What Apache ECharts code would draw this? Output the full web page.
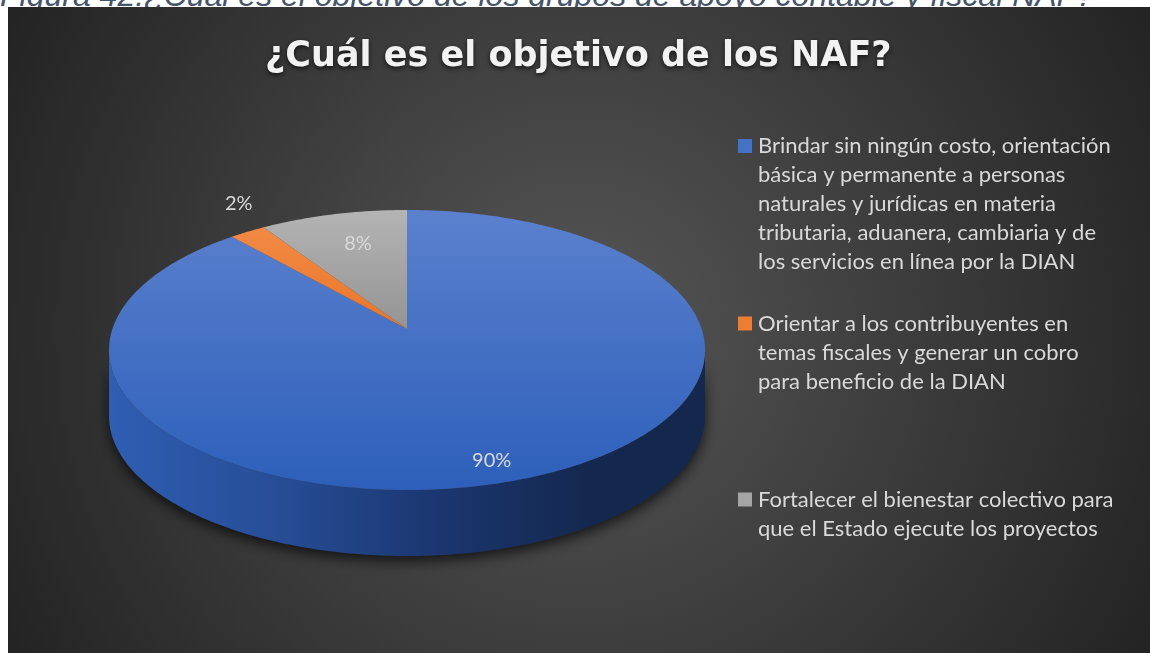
<!DOCTYPE html>
<html>
<head>
<meta charset="utf-8">
<script src="https://cdn.jsdelivr.net/npm/echarts@6/dist/echarts.min.js"></script>
<style>
  html, body { margin: 0; padding: 0; background: #fff; width: 1150px; height: 653px; overflow: hidden; position: relative; }
  #caption { position: absolute; left: 0; top: -21px; font: italic 32px/32px "Liberation Sans", Arial, sans-serif; color: #44546a; white-space: nowrap; }
  #chart { position: absolute; left: 8px; top: 7px; width: 1142px; height: 646px; }
</style>
</head>
<body>
<div id="caption">Figura 42.¿Cuál es el objetivo de los grupos de apoyo contable y fiscal NAF?</div>
<div id="chart"></div>
<script>
// datos
const categories = [
  'Brindar sin ningún costo, orientación\nbásica y permanente a personas\nnaturales y jurídicas en materia\ntributaria, aduanera, cambiaria y de\nlos servicios en línea por la DIAN',
  'Orientar a los contribuyentes en\ntemas fiscales y generar un cobro\npara beneficio de la DIAN',
  'Fortalecer el bienestar colectivo para\nque el Estado ejecute los proyectos'
];
const values = [90, 2, 8];

// estilos
const colors = ['#4472c4', '#ed7d31', '#a5a5a5'];
const topGradients = [['#5b81ce', '#2d5fba'], ['#f28a44', '#ea7628'], ['#b4b4b4', '#949494']];
const sideGradients = [
  [[0, '#2f5eb3'], [0.3, '#264c94'], [0.55, '#1b3670'], [0.8, '#14284f'], [1, '#14274c']],
  [[0, '#c45f1c'], [1, '#7a3a10']],
  [[0, '#8a8a8a'], [1, '#555555']]
];
const labelFraction = [0.92, null, 0.66];   // null = etiqueta fuera
const legendCenterY = [142.5, 320, 496];

const pie = { cx: 399, cy: 343, rx: 298, ry: 140, apexY: 322, depth: 66 };
const total = values.reduce((a, b) => a + b, 0);

function rim(deg, cy) {
  const a = deg * Math.PI / 180;
  return [pie.cx + pie.rx * Math.sin(a), cy - pie.ry * Math.cos(a)];
}
function arc(a0, a1, cy) {
  const pts = [];
  const steps = Math.max(2, Math.ceil(Math.abs(a1 - a0)));
  for (let k = 0; k <= steps; k++) pts.push(rim(a0 + (a1 - a0) * k / steps, cy));
  return pts;
}

function makeRender(i) {
  return function (params, api) {
    const before = values.slice(0, i).reduce((a, b) => a + b, 0);
    const start = before / total * 360;
    const end = start + api.value(0) / total * 360;
    const children = [];

    // pared lateral (solo la parte de frente)
    const a = Math.max(start, 90), b = Math.min(end, 270);
    if (b > a) {
      const pts = arc(a, b, pie.cy).concat(arc(b, a, pie.cy + pie.depth));
      children.push({
        type: 'polygon',
        shape: { points: pts },
        style: {
          fill: new echarts.graphic.LinearGradient(0, 0, 1, 0,
            sideGradients[i].map(s => ({ offset: s[0], color: s[1] }))),
          shadowBlur: 14, shadowColor: 'rgba(0,0,0,0.7)', shadowOffsetY: 5
        }
      });
    }

    // cara superior
    const topPts = [[pie.cx, pie.apexY]].concat(arc(start, end, pie.cy));
    children.push({
      type: 'polygon',
      shape: { points: topPts },
      style: {
        fill: new echarts.graphic.LinearGradient(0, 0, 0, 1, [
          { offset: 0, color: topGradients[i][0] },
          { offset: 1, color: topGradients[i][1] }
        ])
      }
    });

    // etiqueta
    const mid = (start + end) / 2;
    const p = rim(mid, pie.cy);
    let lx, ly;
    if (labelFraction[i] != null) {
      const f = labelFraction[i];
      lx = pie.cx + f * (p[0] - pie.cx);
      ly = pie.apexY + f * (p[1] - pie.apexY) - 10;
    } else {
      const m = mid * Math.PI / 180;
      lx = p[0] + Math.sin(m) * 16;
      ly = p[1] - Math.cos(m) * 34;
    }
    children.push({
      type: 'text',
      x: lx, y: ly,
      style: {
        text: Math.round(api.value(0) / total * 100) + '%',
        fill: '#d9d9d9', font: '20px Lato', align: 'center', verticalAlign: 'middle'
      }
    });

    return { type: 'group', children: children };
  };
}

const chart = echarts.init(document.getElementById('chart'));
chart.setOption({
  animation: false,
  backgroundColor: {
    type: 'radial', x: 0.5, y: 0.5, r: 1,
    colorStops: [{ offset: 0, color: '#565656' }, { offset: 1, color: '#242424' }]
  },
  title: {
    text: '¿Cuál es el objetivo de los NAF?',
    left: 252, top: 27,
    textStyle: {
      color: '#f2f2f2', fontFamily: 'DejaVu Sans', fontWeight: 'bold', fontSize: 35,
      textShadowColor: 'rgba(0,0,0,0.7)', textShadowBlur: 5, textShadowOffsetY: 2
    }
  },
  legend: categories.map((name, i) => ({
    data: [name],
    orient: 'vertical',
    left: 725,
    top: legendCenterY[i] - 14.5,
    padding: 0,
    icon: 'none',
    itemWidth: 0,
    itemHeight: 1,
    selectedMode: false,
    formatter: n => n.split('\n')
      .map((l, k) => (k === 0 ? '{sq|}{gap|}' : '{sp|}') + '{t|' + l + '}')
      .join('\n'),
    textStyle: {
      rich: {
        sq: { width: 14, height: 14, backgroundColor: colors[i] },
        gap: { width: 6 },
        sp: { width: 20 },
        t: { color: '#d9d9d9', fontFamily: 'Lato', fontSize: 22, lineHeight: 29 }
      }
    }
  })),
  series: categories.map((name, i) => ({
    type: 'custom',
    name: name,
    coordinateSystem: 'none',
    itemStyle: { color: colors[i] },
    renderItem: makeRender(i),
    data: [values[i]]
  }))
});
</script>
</body>
</html>
